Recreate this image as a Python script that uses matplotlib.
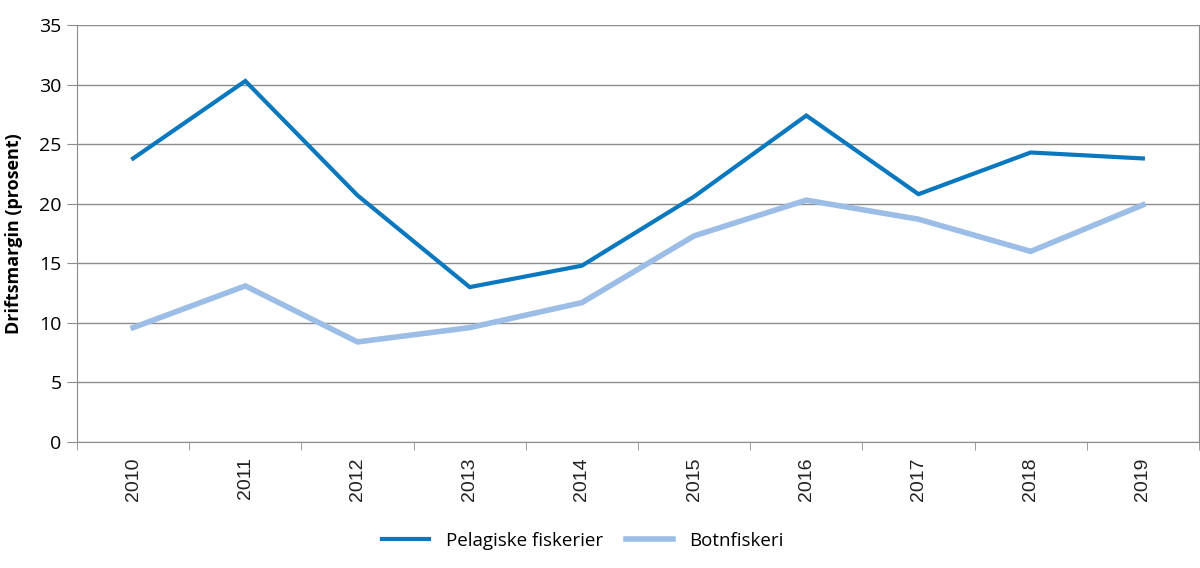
import matplotlib
matplotlib.use("Agg")
import matplotlib.pyplot as plt
import numpy as np

years = ['2010', '2011', '2012', '2013', '2014', '2015', '2016', '2017', '2018', '2019']
pelagiske = [23.8, 30.3, 20.7, 13.0, 14.8, 20.6, 27.4, 20.8, 24.3, 23.8]
botnfiskeri = [9.6, 13.1, 8.4, 9.6, 11.7, 17.3, 20.3, 18.7, 16.0, 19.9]

plt.rcParams['font.family'] = ['Open Sans', 'DejaVu Sans']

fig = plt.figure(figsize=(12, 5.68), dpi=100)
ax = fig.add_axes([77/1200, 1-442/568, 1122/1200, 417/568])

x = np.arange(len(years))
ax.plot(x, pelagiske, color='#0a78be', lw=3, label='Pelagiske fiskerier', solid_joinstyle='miter')
ax.plot(x, botnfiskeri, color='#9bbde6', lw=4, label='Botnfiskeri', solid_joinstyle='miter')

ax.set_xlim(-0.5, len(years)-0.5)
ax.set_ylim(0, 35)
ax.set_yticks(range(0, 36, 5))
ax.yaxis.grid(True, color='#8c8c8c', lw=1)
ax.set_axisbelow(True)

ax.set_xticks(x)
ax.set_xticklabels(years, rotation=90, fontsize=14, family='Liberation Sans', color='#222222')
ax.tick_params(axis='x', length=0, pad=11)
ax.set_xticks(np.arange(-0.5, len(years), 1), minor=True)
ax.tick_params(axis='x', which='minor', length=6, color='#8c8c8c')
ax.tick_params(axis='y', length=7, color='#8c8c8c', labelsize=14, pad=4)

for s in ['left', 'bottom', 'right']:
    ax.spines[s].set_color('#8c8c8c')
ax.spines['top'].set_visible(False)

ax.set_ylabel('Driftsmargin (prosent)', fontsize=13, fontweight='bold', labelpad=12)

fig.legend(loc='center', bbox_to_anchor=(583/1200, 1-541/568), ncol=2, frameon=False,
           fontsize=13.5, handlelength=2.5, handletextpad=0.9, columnspacing=1.2)

fig.savefig('out.png', dpi=100)
